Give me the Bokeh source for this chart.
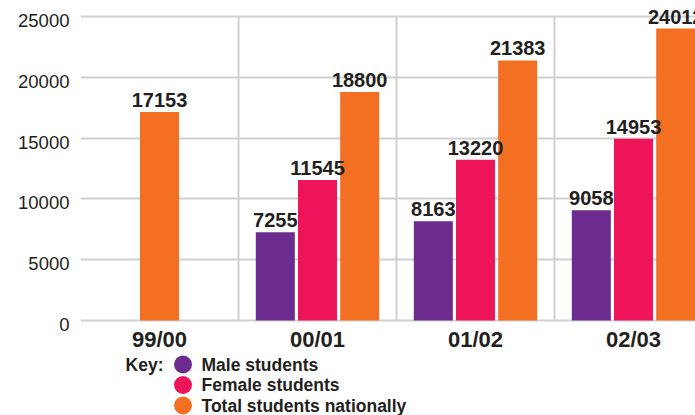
from bokeh.plotting import figure
from bokeh.models import ColumnDataSource, Range1d, FixedTicker
from bokeh.layouts import column
from bokeh.core.properties import value
from bokeh.embed import file_html
from bokeh.resources import INLINE

# ---- data ----
categories = ["99/00", "00/01", "01/02", "02/03"]
male = [None, 7255, 8163, 9058]
female = [None, 11545, 13220, 14953]
total = [17153, 18800, 21383, 24012]
series_names = ["Male students", "Female students", "Total students nationally"]
colors = ["#6c2b8e", "#ee145a", "#f37022"]
y_ticks = [0, 5000, 10000, 15000, 20000, 25000]

TXT = "#231f20"
GRID = "#d0d0d0"
BAR_W = 0.247
STEP = 0.267
FONT = "Liberation Sans"

# bar positions (dodged among the series present in each category)
series = [male, female, total]
bars = {k: dict(x=[], top=[], label=[]) for k in range(3)}
for i, cat in enumerate(categories):
    present = [k for k in range(3) if series[k][i] is not None]
    n = len(present)
    for j, k in enumerate(present):
        off = (j - (n - 1) / 2) * STEP
        bars[k]["x"].append(i + 0.5 + off)
        bars[k]["top"].append(series[k][i])
        bars[k]["label"].append(str(series[k][i]))

p = figure(frame_width=615, frame_height=326,
           x_range=Range1d(0, 3.8924), y_range=Range1d(-493, 26316),
           output_backend="svg", toolbar_location=None,
           min_border_left=80, min_border_right=0, min_border_top=0,
           min_border_bottom=26)
p.outline_line_color = None
p.background_fill_color = "white"

# grid
p.xgrid.visible = False
p.ygrid.ticker = FixedTicker(ticks=y_ticks)
p.ygrid.grid_line_color = GRID
p.ygrid.grid_line_width = 2
sep = list(range(1, len(categories)))
p.segment(x0=sep, x1=sep, y0=[y_ticks[0]] * len(sep), y1=[y_ticks[-1]] * len(sep),
          line_color=GRID, line_width=2)

# y axis: labels sit slightly below their grid lines
shift = 329
p.yaxis.ticker = FixedTicker(ticks=[t - shift for t in y_ticks])
p.yaxis.major_label_overrides = {t - shift: str(t) for t in y_ticks}
p.yaxis.axis_line_color = None
p.yaxis.major_tick_line_color = None
p.yaxis.minor_tick_line_color = None
p.yaxis.major_tick_out = 0
p.yaxis.major_label_standoff = 11
p.yaxis.major_label_text_font = FONT
p.yaxis.major_label_text_font_size = "18.5px"
p.yaxis.major_label_text_color = TXT

p.xaxis.ticker = FixedTicker(ticks=[i + 0.5 for i in range(len(categories))])
p.xaxis.major_label_overrides = {i + 0.5: c for i, c in enumerate(categories)}
p.xaxis.axis_line_color = None
p.xaxis.major_tick_line_color = None
p.xaxis.minor_tick_line_color = None
p.xaxis.major_tick_out = 0
p.xaxis.major_label_standoff = 0
p.xaxis.major_label_text_font = FONT
p.xaxis.major_label_text_font_style = "bold"
p.xaxis.major_label_text_font_size = "22px"
p.xaxis.major_label_text_color = TXT

sources = [ColumnDataSource(bars[k]) for k in range(3)]
for k in range(3):
    p.vbar(x="x", top="top", bottom=0, width=BAR_W, source=sources[k],
           fill_color=colors[k], line_color=None)
for k in range(3):
    p.text(x="x", y="top", text="label", source=sources[k],
           text_font=value(FONT), text_font_style="bold",
           text_font_size="20px", text_color=TXT, text_align="center",
           text_baseline="alphabetic", y_offset=-12)

# ---- key (frame aligned with the chart frame; x in page pixels) ----
KH = 63
leg = figure(frame_width=615, frame_height=KH,
             x_range=Range1d(80, 695), y_range=Range1d(0, KH),
             output_backend="svg", toolbar_location=None,
             x_axis_location=None, y_axis_location=None,
             min_border_left=80, min_border_right=0,
             min_border_top=0, min_border_bottom=0)
leg.grid.visible = False
leg.outline_line_color = None
row_y = [KH - 10 - 20.5 * i for i in range(len(series_names))]
leg.scatter(x=[182.5] * 3, y=row_y, size=18, marker="circle",
            fill_color=colors, line_color=None)
leg.text(x=[201] * 3, y=row_y, text=series_names,
         text_font=value(FONT), text_font_style="bold",
         text_font_size="17.5px", text_color=TXT, text_baseline="middle")
leg.text(x=[163], y=[row_y[0]], text=["Key:"],
         text_font=value(FONT), text_font_style="bold",
         text_font_size="17.5px", text_color=TXT, text_baseline="middle",
         text_align="right")

layout = column(p, leg, spacing=0)
open("out.html", "w").write(file_html(layout, INLINE))
